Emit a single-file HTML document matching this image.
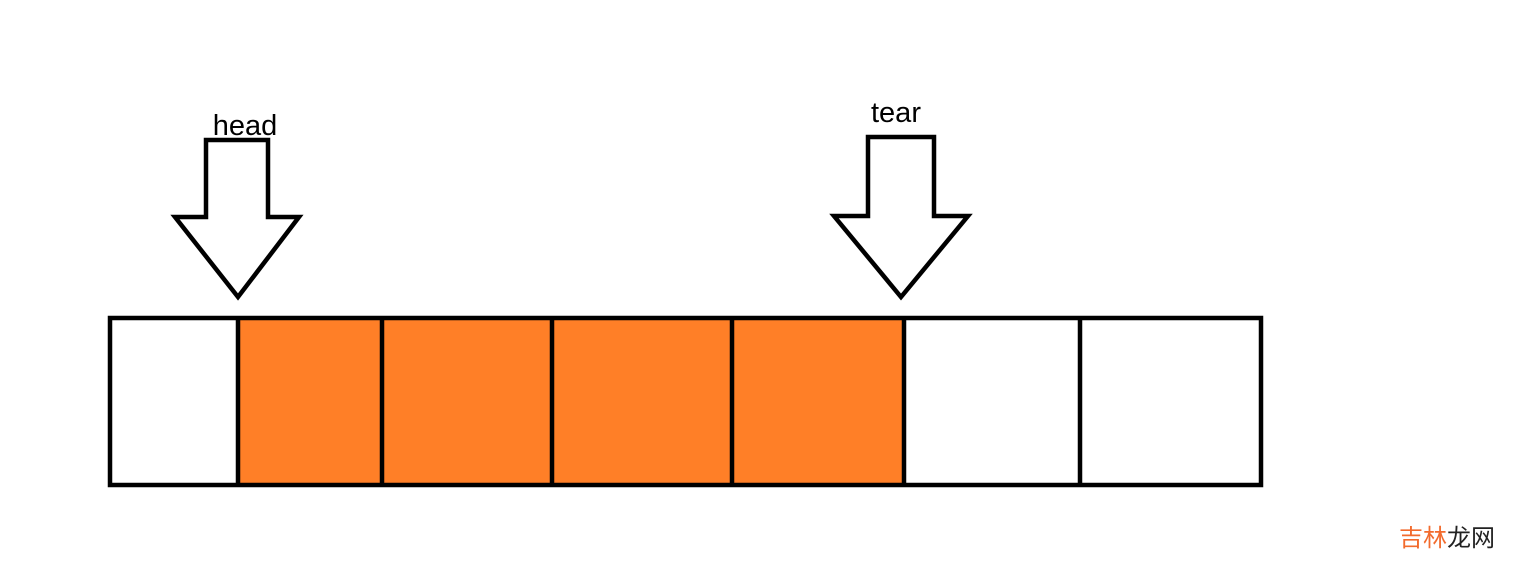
<!DOCTYPE html>
<html><head><style>body{margin:0;background:#fff;width:1536px;height:572px;overflow:hidden}</style></head>
<body>
<svg width="1536" height="572" xmlns="http://www.w3.org/2000/svg">
<rect x="238" y="318" width="666" height="167" fill="#FF7F27"/>
<rect x="110" y="318" width="1151" height="167" fill="none" stroke="#000" stroke-width="4.5"/>
<g stroke="#000" stroke-width="4.5">
<line x1="238" y1="318" x2="238" y2="487"/>
<line x1="382" y1="318" x2="382" y2="487"/>
<line x1="552" y1="318" x2="552" y2="487"/>
<line x1="732" y1="318" x2="732" y2="487"/>
<line x1="904" y1="318" x2="904" y2="487"/>
<line x1="1080" y1="318" x2="1080" y2="487"/>
</g>
<polygon points="206,140 268,140 268,217 299,217 238,297 175,217 206,217" fill="#fff" stroke="#000" stroke-width="4.5"/>
<polygon points="868,137 934,137 934,216 968,216 901,297 834,216 868,216" fill="#fff" stroke="#000" stroke-width="4.5"/>
<g font-family="Liberation Sans, sans-serif" font-size="29" fill="#000" text-anchor="middle">
<text x="245" y="135">head</text>
<text x="896" y="122">tear</text>
</g>
<text x="1399" y="546" font-family="Liberation Sans, 'Noto Sans CJK SC', sans-serif" font-size="24"><tspan fill="#F26B2D">吉林</tspan><tspan fill="#222">龙网</tspan></text>
</svg>
</body></html>
